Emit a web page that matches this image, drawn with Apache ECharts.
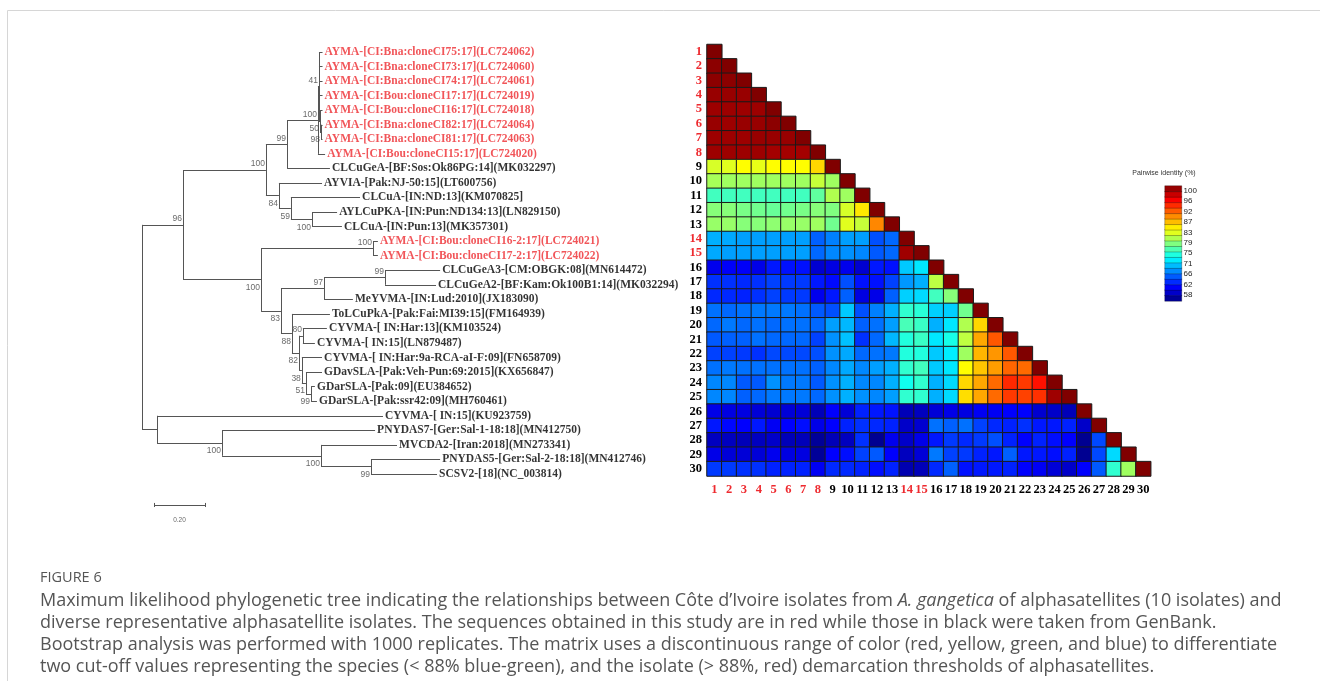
<!DOCTYPE html>
<html><head><meta charset="utf-8">
<script src="https://cdn.jsdelivr.net/npm/echarts@6/dist/echarts.min.js"></script>
<style>html,body{margin:0;padding:0;background:#fff}#c{width:1320px;height:681px}</style>
</head><body><div id="c"></div>
<script>
// ---------- DATA ----------
const leafNames = [
 'AYMA-[CI:Bna:cloneCI75:17](LC724062)','AYMA-[CI:Bna:cloneCI73:17](LC724060)','AYMA-[CI:Bna:cloneCI74:17](LC724061)',
 'AYMA-[CI:Bou:cloneCI17:17](LC724019)','AYMA-[CI:Bou:cloneCI16:17](LC724018)','AYMA-[CI:Bna:cloneCI82:17](LC724064)',
 'AYMA-[CI:Bna:cloneCI81:17](LC724063)','AYMA-[CI:Bou:cloneCI15:17](LC724020)','CLCuGeA-[BF:Sos:Ok86PG:14](MK032297)',
 'AYVIA-[Pak:NJ-50:15](LT600756)','CLCuA-[IN:ND:13](KM070825]','AYLCuPKA-[IN:Pun:ND134:13](LN829150)',
 'CLCuA-[IN:Pun:13](MK357301)','AYMA-[CI:Bou:cloneCI16-2:17](LC724021)','AYMA-[CI:Bou:cloneCI17-2:17](LC724022)',
 'CLCuGeA3-[CM:OBGK:08](MN614472)','CLCuGeA2-[BF:Kam:Ok100B1:14](MK032294)','MeYVMA-[IN:Lud:2010](JX183090)',
 'ToLCuPkA-[Pak:Fai:MI39:15](FM164939)','CYVMA-[ IN:Har:13](KM103524)','CYVMA-[ IN:15](LN879487)',
 'CYVMA-[ IN:Har:9a-RCA-aI-F:09](FN658709)','GDavSLA-[Pak:Veh-Pun:69:2015](KX656847)','GDarSLA-[Pak:09](EU384652)',
 'GDarSLA-[Pak:ssr42:09](MH760461)','CYVMA-[ IN:15](KU923759)','PNYDAS7-[Ger:Sal-1-18:18](MN412750)',
 'MVCDA2-[Iran:2018](MN273341)','PNYDAS5-[Ger:Sal-2-18:18](MN412746)','SCSV2-[18](NC_003814)'
];
const redItems = [1,2,3,4,5,6,7,8,14,15];           // isolates of this study (1-based)
// distance from root (substitutions/site)
const leafDepth = [0.708,0.708,0.708,0.708,0.708,0.708,0.708,0.718,0.737,0.706,0.855,0.765,0.784,0.925,0.925,
                   1.169,1.153,0.827,0.737,0.725,0.678,0.706,0.706,0.678,0.686,0.945,0.914,1.000,1.169,1.157];
const leafParent = [5,5,5,5,6,7,7,4,3,8,9,10,10,12,12,15,15,14,16,18,18,19,20,21,21,22,23,24,25,25];
const nodeDepth  = [0,0.161,0.486,0.569,0.690,0.694,0.698,0.702,0.537,0.584,0.667,0.467,0.906,0.545,0.714,0.953,
                    0.588,0.616,0.631,0.627,0.643,0.663,0.059,0.314,0.702,0.898];
const nodeParent = [-1,0,1,2,3,4,5,6,2,8,9,1,11,11,13,14,13,16,17,17,19,20,0,22,23,24];
const nodeBoot   = ['','96','100','99','100','41','50','98','84','59','100','100','100','83','97','99',
                    '88','82','80','38','51','99','','100','100','99'];
const scaleBarLength = 0.2;
const scaleBarLabel = '0.20';

const matrixLabels = ['1','2','3','4','5','6','7','8','9','10','11','12','13','14','15','16','17','18','19','20',
                      '21','22','23','24','25','26','27','28','29','30'];
// pairwise identity (%), lower triangle, row i has i values
const identity = [
[100],
[99.5,100],
[99.5,99.5,100],
[99,99,99,100],
[98.8,98.8,98.8,98.8,100],
[99,98.8,99,99,99.5,100],
[98.8,98.8,98.8,99,99,99,100],
[98.8,98.8,98.8,98.8,98.5,98.5,98.5,100],
[82.6,83,84.3,83.3,84.3,84.3,84.3,85.9,100],
[80.6,80.3,80.3,80.3,80.3,80.3,80.3,81.9,80.3,100],
[76.4,76.4,76.4,76.4,76.4,76.4,76.4,77.7,81,80.3,100],
[79.3,79.3,78.7,78.4,78,78.4,78.7,79.3,79,82.6,85.2,100],
[80,80,79.3,79.3,79.6,80,80,80.3,78.4,83,81.9,89.2,100],
[70.5,70.2,69.8,69.8,69.8,69.8,69.8,67.2,68.5,69.8,69.8,66.5,67.5,100],
[70.2,69.8,69.8,69.8,69.8,69.8,69.8,67.5,68.8,69.2,68.8,66.9,67.5,98.7,100],
[62.5,63,63,62.3,64.2,63.9,63.9,61.3,62,62.5,61.3,64.2,63.9,71.5,72.8,100],
[65.2,65.2,64.9,65.2,65.9,65.6,65.6,64.2,63.6,66.5,63.9,63.9,65.9,69.5,70.5,81.5,100],
[64.9,64.9,64.6,65.2,65.9,65.6,65.6,62.5,64.2,67.2,62,62.3,67.2,71.8,72.2,76.4,79.3,100],
[67.9,67.5,67.9,68.2,68.2,68.2,67.9,66.9,66.5,71.5,66.5,68.5,70.5,75.7,75.4,71.8,71.8,78.4,100],
[67.5,68.2,67.5,67.9,67.5,67.9,67.9,67.5,69.8,70.8,67.2,67.9,69.8,76.7,76.1,70.5,72.8,81,85.9,100],
[66.9,67.2,67.2,67.9,67.5,67.5,67.5,65.9,69.2,71.2,65.2,67.5,70.8,75.1,76.1,72.8,74.7,81.6,87.9,91.2,100],
[65.9,65.9,65.6,65.2,66.2,66.2,66.2,66.5,69.2,70.2,67.5,67.9,68.2,75.1,75.1,71.5,73.1,80.3,87.3,88.6,91.2,100],
[67.9,68.2,67.9,67.9,67.9,67.9,67.9,67.2,68.8,70.2,68.8,69.8,70.5,75.7,76.4,71.5,72.8,84.3,86.6,88.3,90.6,90.4,100],
[68.8,68.8,66.9,66.9,69.2,68.2,68.2,66.9,69.2,70.5,68.8,68.8,70.5,74.4,75.7,70.5,72.2,85.9,87.9,90.4,93.1,92.4,94.1,100],
[68.8,68.8,67.2,67.5,68.2,68.2,68.2,67.5,69.2,70.5,69.2,68.8,69.8,75.7,75.7,70.5,72.2,85.6,87.9,90.4,92.4,92.1,92.8,98.7,100],
[62.3,62,62,61.6,61.3,61.6,61.6,60.3,63.2,61.6,64.6,64.2,64,60.3,60.6,61.6,62.3,62,62.8,62.8,63.2,63.2,61.3,61,60.3,100],
[64.2,63.5,63.2,64.2,62.8,63.2,63.8,62.3,63.2,64.6,65.2,64.9,64.6,61,61.3,67.9,67.2,67.9,65.9,64.9,64.6,65.2,64.2,64.2,64.6,61,100],
[60.6,60.6,60.3,60.6,61,60.3,60.3,59,60.3,60.6,65.2,58.7,62.5,61,62.3,64.2,65.6,64.9,65.6,66.5,64.6,63.2,64.6,63.8,63.2,58.7,66.2,100],
[62.3,61.6,61.6,61.6,62.6,62,62,59,63.2,63.8,65.9,66.9,63.2,60.6,61.6,68.2,65.9,65.6,64.6,64.2,67.2,64.2,64.2,63.8,64.6,58.7,66.2,72.2,100],
[65.6,65.6,65.2,65.2,64.6,64.6,64.6,62.8,64.9,64.9,64.6,63.8,64.6,60,60.3,64.9,67.2,63.9,64.2,64.2,64.6,63.2,62.8,61.6,61,63.2,66.9,75.7,80.3,100]
];
const legendBands = [59,61,63,65,67,69,71,73,75,77,79,81,83,85,87,89,91,93,95,97,99];
const legendTicks = ['58','62','66','71','75','79','83','87','92','96','100'];
const legendTitle = 'Pairwise identity (%)';
const captionHead = 'FIGURE 6';
const captionLines = [
 'Maximum likelihood phylogenetic tree indicating the relationships between Côte d’Ivoire isolates from {it|A. gangetica} of alphasatellites (10 isolates) and',
 'diverse representative alphasatellite isolates. The sequences obtained in this study are in red while those in black were taken from GenBank.',
 'Bootstrap analysis was performed with 1000 replicates. The matrix uses a discontinuous range of color (red, yellow, green, and blue) to differentiate',
 'two cut-off values representing the species (< 88% blue-green), and the isolate (> 88%, red) demarcation thresholds of alphasatellites.'
];

// ---------- BUILD ----------
const RED = '#ee2a2f';
const isRed = i => redItems.indexOf(i + 1) >= 0;
const nNodes = nodeDepth.length;
const children = nodeDepth.map(() => []);
leafParent.forEach((p, i) => children[p].push({leaf: true, idx: i}));
nodeParent.forEach((p, i) => { if (p >= 0) children[p].push({leaf: false, idx: i}); });
function minLeaf(c) { return c.leaf ? c.idx : Math.min.apply(null, children[c.idx].map(minLeaf)); }
children.forEach(ch => ch.sort((a, b) => minLeaf(a) - minLeaf(b)));
const nodeY = [];
function yOf(c) {
  if (c.leaf) return c.idx + 1;
  if (nodeY[c.idx] === undefined) { const ch = children[c.idx]; nodeY[c.idx] = (yOf(ch[0]) + yOf(ch[ch.length - 1])) / 2; }
  return nodeY[c.idx];
}
for (let i = 0; i < nNodes; i++) yOf({leaf: false, idx: i});
const xOf = c => c.leaf ? leafDepth[c.idx] : nodeDepth[c.idx];
const segs = [];
children.forEach((ch, i) => {
  const x = nodeDepth[i];
  segs.push({coords: [[x, yOf(ch[0])], [x, yOf(ch[ch.length - 1])]]});
  ch.forEach(c => segs.push({coords: [[x, yOf(c)], [xOf(c), yOf(c)]]}));
});
// scale bar
const sbX = 0.047, sbY = 32.13;
segs.push({coords: [[sbX, sbY], [sbX + scaleBarLength, sbY]]});
segs.push({coords: [[sbX, sbY - 0.14], [sbX, sbY + 0.14]]});
segs.push({coords: [[sbX + scaleBarLength, sbY - 0.14], [sbX + scaleBarLength, sbY + 0.14]]});

const bootData = [];
for (let i = 0; i < nNodes; i++) {
  if (!nodeBoot[i]) continue;
  const p = nodeParent[i];
  const first = !children[p][0].leaf && children[p][0].idx === i;
  bootData.push({name: nodeBoot[i], value: [nodeDepth[i], nodeY[i]], label: {offset: [0, first ? -6 : 8]}});
}
const leafData = leafNames.map((n, i) => ({name: n, value: [leafDepth[i], i + 1],
  label: {color: isRed(i) ? RED : '#000'}}));

const heatData = [];
identity.forEach((row, i) => row.forEach((v, j) => heatData.push([j, i, v])));
const bandData = legendBands.map((v, k) => [0, k, v]);

const labelColor = (v, i) => isRed(i) ? RED : '#000';
const serif = "'Liberation Serif', 'Times New Roman', serif";
const capFont = "'Open Sans', sans-serif";

const chart = echarts.init(document.getElementById('c'));
chart.setOption({
  animation: false,
  backgroundColor: '#fff',
  grid: [
    {left: 142, top: 52, width: 510, height: 480.2},
    {left: 707, top: 44.5, width: 443.7, height: 431.5},
    {left: 1165, top: 186, width: 16.5, height: 115},
    {left: 1165, top: 190.7, width: 16.5, height: 104.3}
  ],
  xAxis: [
    {gridIndex: 0, type: 'value', min: 0, max: 2, show: false},
    {gridIndex: 1, type: 'category', data: matrixLabels, position: 'bottom',
      axisLine: {show: false}, axisTick: {show: false}, splitLine: {show: false},
      axisLabel: {interval: 0, margin: 7, fontFamily: serif, fontWeight: 'bold', fontSize: 12.5, color: labelColor}},
    {gridIndex: 2, type: 'category', data: ['c'], show: false},
    {gridIndex: 3, type: 'value', min: 0, max: 1, show: false}
  ],
  yAxis: [
    {gridIndex: 0, type: 'value', min: 1, max: 34, inverse: true, show: false},
    {gridIndex: 1, type: 'category', data: matrixLabels, inverse: true,
      axisLine: {show: false}, axisTick: {show: false}, splitLine: {show: false},
      axisLabel: {interval: 0, margin: 5, fontFamily: serif, fontWeight: 'bold', fontSize: 12.5, color: labelColor}},
    {gridIndex: 2, type: 'category', data: legendBands.map(String), show: false},
    {gridIndex: 3, type: 'value', min: 0, max: 10, interval: 1, position: 'right',
      axisLine: {show: false}, splitLine: {show: false},
      axisTick: {show: true, length: 4, lineStyle: {color: '#000', width: 1.5}},
      axisLabel: {formatter: v => legendTicks[Math.round(v)], fontSize: 8, margin: 2, color: '#222',
        fontFamily: "'Liberation Sans', Arial, sans-serif"}}
  ],
  visualMap: {
    type: 'continuous', show: false, min: 58, max: 100, dimension: 2, seriesIndex: [3, 4],
    inRange: {color: ['#000080','#0000ff','#0080ff','#00ffff','#80ff80','#ffff00','#ff8000','#ff0000','#800000']}
  },
  series: [
    {type: 'lines', coordinateSystem: 'cartesian2d', xAxisIndex: 0, yAxisIndex: 0, silent: true,
      lineStyle: {color: '#555', width: 1, opacity: 1, curveness: 0}, data: segs},
    {type: 'scatter', xAxisIndex: 0, yAxisIndex: 0, symbolSize: 0.1, silent: true,
      itemStyle: {color: 'rgba(0,0,0,0)'}, data: bootData,
      label: {show: true, position: 'left', distance: 1, formatter: '{b}', fontSize: 8.5, color: '#444',
        fontFamily: "'Liberation Sans Narrow', 'Liberation Sans', Arial, sans-serif"}},
    {type: 'scatter', xAxisIndex: 0, yAxisIndex: 0, symbolSize: 0.1, silent: true,
      itemStyle: {color: 'rgba(0,0,0,0)'}, data: leafData,
      label: {show: true, position: 'right', distance: 2, formatter: '{b}', fontSize: 11.5,
        fontWeight: 'bold', fontFamily: serif}},
    {type: 'heatmap', xAxisIndex: 1, yAxisIndex: 1, data: heatData,
      itemStyle: {borderColor: '#1a1a1a', borderWidth: 1}},
    {type: 'heatmap', xAxisIndex: 2, yAxisIndex: 2, data: bandData,
      itemStyle: {borderColor: 'rgba(0,0,0,0.45)', borderWidth: 0.6}},
    {type: 'scatter', xAxisIndex: 0, yAxisIndex: 0, symbolSize: 0.1, silent: true,
      itemStyle: {color: 'rgba(0,0,0,0)'},
      data: [{name: scaleBarLabel, value: [sbX + scaleBarLength / 2, sbY]}],
      label: {show: true, position: 'bottom', distance: 12, formatter: '{b}', fontSize: 6.5, color: '#444',
        fontFamily: "'Liberation Sans Narrow', 'Liberation Sans', Arial, sans-serif"}}
  ],
  graphic: [
    {type: 'polyline', silent: true, shape: {points: [[7.5, 681], [7.5, 10.5], [1320, 10.5]]},
      style: {stroke: '#d6d6d6', fill: null, lineWidth: 1}},
    {type: 'text', x: 1164, y: 173, silent: true,
      style: {text: legendTitle, fontSize: 7, fontFamily: "'Liberation Sans', Arial, sans-serif", fill: '#333',
        textAlign: 'center', textVerticalAlign: 'middle'}},
    {type: 'text', x: 40, y: 578, silent: true,
      style: {text: captionHead, fontSize: 14.5, fontFamily: capFont, fill: '#555',
        textAlign: 'left', textVerticalAlign: 'middle'}}
  ].concat(captionLines.map((t, k) => ({
    type: 'text', x: 40, y: 601 + k * 22, silent: true,
    style: {text: t, fontSize: 18, fontFamily: capFont, fill: '#555', textAlign: 'left', textVerticalAlign: 'middle',
      rich: {it: {fontStyle: 'italic', fontSize: 18, fontFamily: capFont, fill: '#555', color: '#555'}}}
  })))
});
</script></body></html>
